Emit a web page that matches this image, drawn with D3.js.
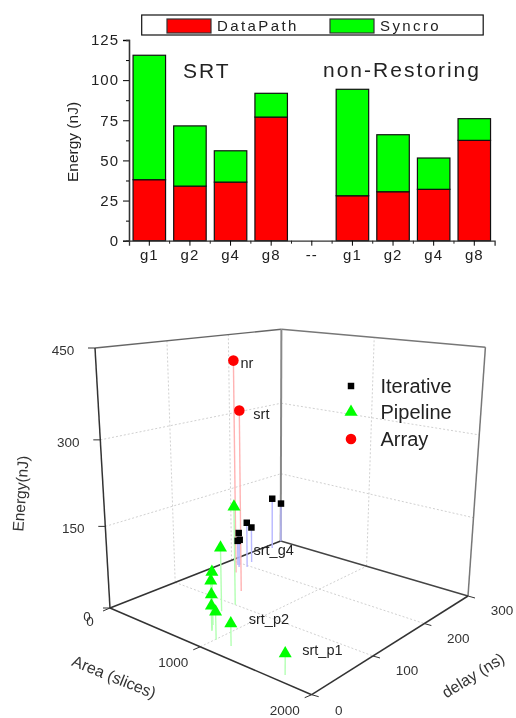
<!DOCTYPE html>
<html>
<head>
<meta charset="utf-8">
<script src="https://d3js.org/d3.v7.min.js"></script>
<style>
    body { margin: 0; background: #fff; }
    svg { display: block; filter: blur(0.4px); }
    text { font-family: "Liberation Sans", Arial, sans-serif; }
</style>
</head>
<body>
<div id="chart"></div>
<script>
/* * * * * * * * * * * * * *
*           Data           *
* * * * * * * * * * * * * */

// top chart: stacked energy bars
const barKeys = ["SRT g1", "SRT g2", "SRT g4", "SRT g8", "gap", "NR g1", "NR g2", "NR g4", "NR g8"];
const barLabels = ["g1", "g2", "g4", "g8", "--", "g1", "g2", "g4", "g8"];
const dataPath = [38, 34, 36.5, 77, 0, 28, 30.5, 32, 62.5];
const syncro = [77.5, 37.5, 19.5, 14.8, 0, 66.3, 35.5, 19.5, 13.5];
const energyTicks = [0, 25, 50, 75, 100, 125];
const energyMinorTicks = [12.5, 37.5, 62.5, 87.5, 112.5];

// bottom chart: area (slices), delay (ns), energy (nJ)
const iterativeArea = [64, 8, 216, 164, 164, 136, 124];
const iterativeDelay = [271, 299, 196, 213, 189, 195, 193];
const iterativeEnergy = [108, 85, 92, 73, 71, 53, 51];

const pipelineArea = [692, 696, 820, 848, 872, 884, 1008, 1156, 1712];
const pipelineDelay = [100, 77, 45, 39, 36, 34, 22, 22, 12];
const pipelineEnergy = [181, 117, 95, 84, 63, 45, 49, 39, 35];

const arrayArea = [230, 540];
const arrayDelay = [173, 134];
const arrayEnergy = [410, 336];

const areaTicks = [0, 1000, 2000];
const delayTicks = [0, 100, 200, 300];
const zTicks = [0, 150, 300, 450];

const svg = d3.select("#chart").append("svg")
    .attr("width", 516)
    .attr("height", 718);

/* * * * * * * * * * * * * *
*        Bar chart         *
* * * * * * * * * * * * * */

const x = d3.scaleBand()
    .domain(barKeys)
    .range([129, 494.6])
    .paddingInner(0.2)
    .paddingOuter(0.1);

const y = d3.scaleLinear()
    .domain([0, 125])
    .range([240.7, 40]);

const rows = barKeys.map((k, i) => ({key: k, label: barLabels[i], dataPath: dataPath[i], syncro: syncro[i]}));
const stacked = d3.stack().keys(["dataPath", "syncro"])(rows.filter(d => d.key !== "gap"));
const barColors = {dataPath: "#ff0000", syncro: "#00ff00"};

svg.append("g").selectAll("g")
    .data(stacked)
    .enter().append("g")
    .attr("fill", d => barColors[d.key])
    .selectAll("rect")
    .data(d => d)
    .enter().append("rect")
    .attr("x", d => x(d.data.key))
    .attr("y", d => y(d[1]))
    .attr("width", x.bandwidth())
    .attr("height", d => y(d[0]) - y(d[1]))
    .attr("stroke", "#111")
    .attr("stroke-width", 1.2);

// y axis, major and minor ticks
const yAxis = svg.append("g")
    .attr("transform", "translate(129,0)")
    .call(d3.axisLeft(y).tickValues(energyTicks).tickSize(6).tickPadding(4));
yAxis.selectAll("text")
    .attr("font-size", 15)
    .attr("letter-spacing", 1)
    .attr("fill", "#222");
svg.append("g")
    .attr("transform", "translate(129,0)")
    .call(d3.axisLeft(y).tickValues(energyMinorTicks).tickSize(3).tickFormat(""));

// x axis: long tick on the bar, short tick between bars
const xAxis = svg.append("g")
    .attr("transform", "translate(0,240.7)")
    .call(d3.axisBottom(x).tickSize(5).tickPadding(4).tickFormat((d, i) => barLabels[i]));
xAxis.selectAll("text")
    .attr("font-size", 15)
    .attr("letter-spacing", 1)
    .attr("fill", "#222");
svg.append("g").selectAll("line")
    .data(barKeys.slice(1))
    .enter().append("line")
    .attr("x1", d => x(d) - x.step() * x.paddingInner() / 2)
    .attr("x2", d => x(d) - x.step() * x.paddingInner() / 2)
    .attr("y1", 240.7)
    .attr("y2", 243.7)
    .attr("stroke", "#222");

svg.selectAll(".domain").attr("stroke", "#333").attr("stroke-width", 1.3);

svg.append("text")
    .attr("transform", "translate(78,142) rotate(-90)")
    .attr("text-anchor", "middle")
    .attr("font-size", 15.5)
    .attr("fill", "#222")
    .text("Energy (nJ)");

svg.append("text").attr("x", 183).attr("y", 78)
    .attr("font-size", 21).attr("letter-spacing", 2).attr("fill", "#222").text("SRT");
svg.append("text").attr("x", 323).attr("y", 77)
    .attr("font-size", 21).attr("letter-spacing", 2).attr("fill", "#222").text("non-Restoring");

// legend
svg.append("rect")
    .attr("x", 141.7).attr("y", 15).attr("width", 341.5).attr("height", 20)
    .attr("fill", "#fff").attr("stroke", "#111").attr("stroke-width", 1.2);
const legendItems = [
    {label: "DataPath", color: barColors.dataPath, left: 167},
    {label: "Syncro", color: barColors.syncro, left: 330}
];
legendItems.forEach(d => {
    svg.append("rect")
        .attr("x", d.left).attr("y", 19).attr("width", 44).attr("height", 14)
        .attr("fill", d.color).attr("stroke", "#333").attr("stroke-width", 1.2);
    svg.append("text")
        .attr("x", d.left + 50).attr("y", 31)
        .attr("font-size", 15).attr("letter-spacing", 2.4).attr("fill", "#222")
        .text(d.label);
});

/* * * * * * * * * * * * * *
*         3D chart         *
* * * * * * * * * * * * * */

// data -> unit cube
const uScale = d3.scaleLinear().domain([0, 2000]).range([0, 1]);
const vScale = d3.scaleLinear().domain([0, 300]).range([0, 1]);
const wScale = d3.scaleLinear().domain([0, 450]).range([0, 1]);

// cube corners on the page and the perspective weights of the three axes
const cornerO = [110, 608], cornerA = [311.7, 694.7], cornerD = [280.7, 541], cornerT = [95, 348];
const persp = {u: -0.19, v: 0.2354, w: -0.085};

function project(area, delay, energy) {
    let u = uScale(area), v = vScale(delay), w = wScale(energy);
    let W = 1 + persp.u * u + persp.v * v + persp.w * w;
    let along = i => (cornerO[i]
        + u * ((1 + persp.u) * cornerA[i] - cornerO[i])
        + v * ((1 + persp.v) * cornerD[i] - cornerO[i])
        + w * ((1 + persp.w) * cornerT[i] - cornerO[i])) / W;
    return [along(0), along(1)];
}

const g3d = svg.append("g");

function edge(a, b, color, width, dash) {
    g3d.append("line")
        .attr("x1", a[0]).attr("y1", a[1])
        .attr("x2", b[0]).attr("y2", b[1])
        .attr("stroke", color)
        .attr("stroke-width", width)
        .attr("stroke-dasharray", dash || null);
}

// grid lines
const gridColor = "#c4c4c4", gridDash = "2,2";
areaTicks.slice(1, -1).forEach(t => {
    edge(project(t, 0, 0), project(t, 300, 0), gridColor, 0.8, gridDash);
    edge(project(t, 300, 0), project(t, 300, 450), gridColor, 0.8, gridDash);
});
delayTicks.slice(1, -1).forEach(t => {
    edge(project(0, t, 0), project(2000, t, 0), gridColor, 0.8, gridDash);
    edge(project(0, t, 0), project(0, t, 450), gridColor, 0.8, gridDash);
});
zTicks.slice(1, -1).forEach(t => {
    edge(project(0, 0, t), project(0, 300, t), gridColor, 0.8, gridDash);
    edge(project(0, 300, t), project(2000, 300, t), gridColor, 0.8, gridDash);
});

// box outline
edge(project(0, 0, 450), project(0, 300, 450), "#666", 1.4);
edge(project(0, 300, 450), project(2000, 300, 450), "#777", 1.4);
edge(project(2000, 300, 450), project(2000, 300, 0), "#777", 1.5);
edge(project(0, 300, 0), project(0, 300, 450), "#888", 2);
edge(project(0, 0, 0), project(0, 0, 450), "#333", 1.5);
edge(project(0, 300, 0), project(2000, 300, 0), "#444", 1.4);
edge(project(0, 0, 0), project(0, 300, 0), "#333", 1.5);
edge(project(0, 0, 0), project(2000, 0, 0), "#333", 1.5);
edge(project(2000, 0, 0), project(2000, 300, 0), "#333", 1.5);

const tickFill = "#333";

function tickLabel(pos, txt, dx, dy) {
    g3d.append("text")
        .attr("x", pos[0] + dx)
        .attr("y", pos[1] + dy)
        .attr("text-anchor", "middle")
        .attr("font-size", 13.5)
        .attr("fill", tickFill)
        .text(txt);
}

// ticks and labels of the three axes
zTicks.forEach(t => {
    let p = project(0, 0, t);
    edge(p, [p[0] - 7, p[1]], "#333", 1);
    if (t > 0) tickLabel(p, t, -32, 7);
});
areaTicks.forEach(t => {
    let p = project(t, 0, 0);
    edge(p, [p[0] - 7, p[1] + 3], "#333", 1);
    tickLabel(p, t, t === 0 ? -20 : -27, t === 0 ? 18 : 20);
});
delayTicks.forEach(t => {
    let p = project(2000, t, 0);
    edge(p, [p[0] + 7, p[1] + 2], "#333", 1);
    tickLabel(p, t, t === 0 ? 27 : 34, t === 0 ? 20 : 19);
});
// the energy 0 sits right on top of the area 0
tickLabel(project(0, 0, 0), 0, -23, 13);

function axisTitle(cx, cy, angle, txt, size) {
    g3d.append("text")
        .attr("transform", `translate(${cx},${cy}) rotate(${angle})`)
        .attr("text-anchor", "middle")
        .attr("font-size", size)
        .attr("fill", "#333")
        .text(txt);
}
axisTitle(26, 494, -86, "Energy(nJ)", 15.5);
axisTitle(112, 682, 22, "Area (slices)", 16);
axisTitle(476, 680, -32, "delay (ns)", 16);

// series, stems go first so the markers sit on top
const series3d = [
    {area: iterativeArea, delay: iterativeDelay, energy: iterativeEnergy, color: "#000", stem: "#b9b9ff", symbol: d3.symbolSquare, size: 42},
    {area: arrayArea, delay: arrayDelay, energy: arrayEnergy, color: "#ff0000", stem: "#ffb3b3", symbol: d3.symbolCircle, size: 88},
    {area: pipelineArea, delay: pipelineDelay, energy: pipelineEnergy, color: "#00ff00", stem: "#b3ffb3", symbol: d3.symbolTriangle, size: 73}
];

series3d.forEach(s => {
    s.area.forEach((a, i) => edge(project(a, s.delay[i], 0), project(a, s.delay[i], s.energy[i]), s.stem, 1.4));
});
series3d.forEach(s => {
    g3d.append("g").selectAll("path")
        .data(s.area.map((a, i) => project(a, s.delay[i], s.energy[i])))
        .enter().append("path")
        .attr("d", d3.symbol().type(s.symbol).size(s.size))
        .attr("transform", d => `translate(${d[0]},${d[1]})`)
        .attr("fill", s.color);
});

// point labels
function pointLabel(pos, txt, dx, dy) {
    g3d.append("text")
        .attr("x", pos[0] + dx)
        .attr("y", pos[1] + dy)
        .attr("font-size", 14.5)
        .attr("fill", "#222")
        .text(txt);
}
pointLabel(project(arrayArea[0], arrayDelay[0], arrayEnergy[0]), "nr", 7, 7);
pointLabel(project(arrayArea[1], arrayDelay[1], arrayEnergy[1]), "srt", 14, 9);
pointLabel(project(pipelineArea[1], pipelineDelay[1], pipelineEnergy[1]), "srt_g4", 33, 7);
pointLabel(project(pipelineArea[7], pipelineDelay[7], pipelineEnergy[7]), "srt_p2", 18, 1);
pointLabel(project(pipelineArea[8], pipelineDelay[8], pipelineEnergy[8]), "srt_p1", 17, 1);

// legend
const legend3d = [
    {label: "Iterative", series: series3d[0], cy: 386},
    {label: "Pipeline", series: series3d[2], cy: 412},
    {label: "Array", series: series3d[1], cy: 439}
];
legend3d.forEach(d => {
    g3d.append("path")
        .attr("d", d3.symbol().type(d.series.symbol).size(d.series.size))
        .attr("transform", `translate(351,${d.cy})`)
        .attr("fill", d.series.color);
    g3d.append("text")
        .attr("x", 380.5)
        .attr("y", d.cy + 7)
        .attr("font-size", 20)
        .attr("fill", "#222")
        .text(d.label);
});
</script>
</body>
</html>
